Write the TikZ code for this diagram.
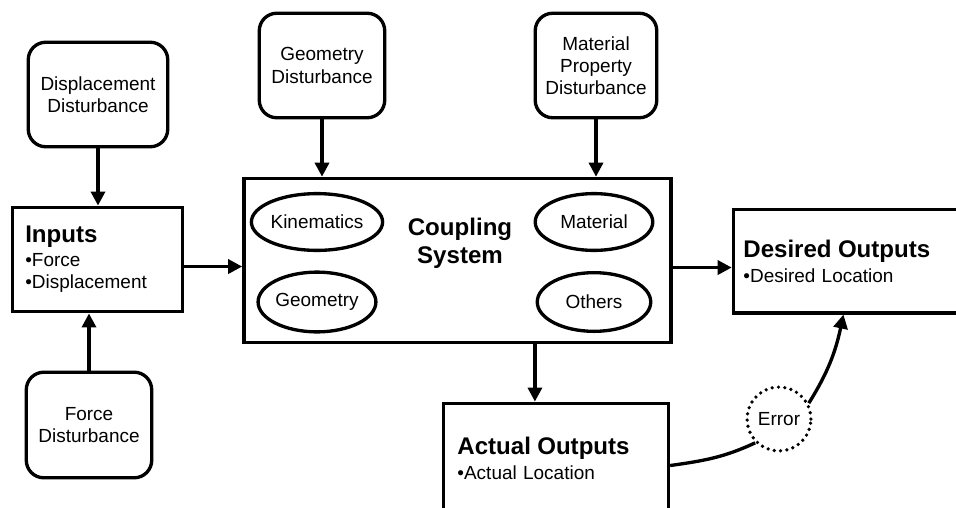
\documentclass[tikz,border=0pt]{standalone}
\usepackage{fontspec}
\setmainfont{Liberation Sans}
\usetikzlibrary{arrows.meta,shapes.geometric}
\newcommand\headfont{\fontsize{13.7}{16}\selectfont\bfseries}

\begin{document}
\begin{tikzpicture}[x=0.02cm,y=-0.02cm,line width=1.9pt,
        txt/.style={font=\fontsize{10.8}{12.6}\selectfont},
        disturb/.style={draw,rounded corners=10pt,align=center,inner sep=0pt,txt},
        block/.style={draw,align=left,inner ysep=0pt,txt},
        part/.style={draw,ellipse,inner sep=0pt,txt},
        flow/.style={-{Triangle[length=8pt,width=8pt]}}]
        \useasboundingbox (0,0) rectangle (956,507);
        \clip (0,0) rectangle (956,507);
        % disturbances
        \node[disturb,minimum width=79.4pt,minimum height=59.5pt] (dispdist) at (98,94.5) {Displacement\\Disturbance};
        \node[disturb,minimum width=71.4pt,minimum height=60.1pt] (forcedist) at (89,425) {Force\\Disturbance};
        \node[disturb,minimum width=71.4pt,minimum height=59.5pt] (geodist) at (322,65.5) {Geometry\\Disturbance};
        \node[disturb,minimum width=69.2pt,minimum height=59.5pt] (matdist) at (596,65.5) {Material\\Property\\Disturbance};
        % main blocks
        \node[block,text width=82.2pt,inner xsep=7.4pt,minimum height=59.5pt] (inputs) at (97.5,259.5) {{\headfont Inputs}\\[1pt]\textbullet Force\\\textbullet Displacement};
        \node[draw,minimum width=243.2pt,minimum height=93.5pt] (coupling) at (457.5,260.5) {};
        \node[font=\headfont,align=center] (couplinglabel) at (460,243) {Coupling\\System};
        \node[block,text width=125.9pt,inner xsep=5.7pt,minimum height=59pt] (desired) at (854,261) {{\headfont Desired Outputs}\\[1.5pt]\textbullet Desired Location};
        \node[block,text width=112.2pt,inner xsep=7.9pt,minimum height=62.9pt] (actual) at (556,458.5) {{\headfont Actual Outputs}\\[1.5pt]\textbullet Actual Location};
        % coupling parts
        \node[part,minimum width=66.3pt,minimum height=32.3pt] (kinematics) at (317,222) {Kinematics};
        \node[part,minimum width=66.3pt,minimum height=34pt] (geometry) at (317,302) {Geometry};
        \node[part,minimum width=66.9pt,minimum height=32.3pt] (material) at (594,222) {Material};
        \node[part,minimum width=64.6pt,minimum height=33.4pt] (others) at (594,302) {Others};
        \node[circle,draw,minimum size=36.3pt,inner sep=0pt,txt,line width=2.1pt,line cap=round,dash pattern=on 0pt off 3.6pt] (error) at (779,419) {Error};
        % connectors
        \coordinate (inout) at ([yshift=-4pt]inputs.east);
        \coordinate (coupout) at ([yshift=-4pt]coupling.east);
        \coordinate (drop) at ([xshift=-12pt]actual.north);
        \coordinate (actout) at ([yshift=-4pt]actual.east);
        \coordinate (desin) at ([xshift=-6pt]desired.south);
        \draw[flow] (dispdist) -- (dispdist |- inputs.north);
        \draw[flow] (forcedist) -- (forcedist |- inputs.south);
        \draw[flow] (geodist) -- (geodist |- coupling.north);
        \draw[flow] (matdist) -- (matdist |- coupling.north);
        \draw[flow] (inout) -- (inout -| coupling.west);
        \draw[flow] (coupout) -- (coupout -| desired.west);
        \draw[flow] (drop |- coupling.south) -- (drop);
        \draw (actout) to[out=8,in=205] (error.225);
        \draw[flow] (error.28) to[out=58,in=258] (desin);
\end{tikzpicture}
\end{document}
